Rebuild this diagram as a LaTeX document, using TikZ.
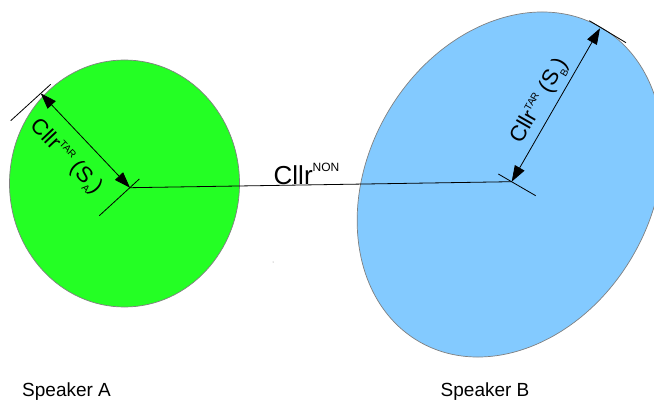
\documentclass[tikz,border=0pt]{standalone}
\usepackage{fontspec}
\setmainfont{Liberation Sans}
\usetikzlibrary{arrows.meta}
\definecolor{spkgreen}{RGB}{36,255,36}
\definecolor{spkblue}{RGB}{131,202,255}
\definecolor{rimgray}{RGB}{128,128,128}
\newcommand{\bigtxt}[1]{{\fontsize{22}{22}\selectfont #1}}
\newcommand{\smalltxt}[1]{{\fontsize{10}{10}\selectfont #1}}
\newcommand{\tarlabel}[1]{\bigtxt{Cllr}\raisebox{9pt}{\smalltxt{TAR}}\bigtxt{ (S}\raisebox{-5pt}{\smalltxt{#1}}\bigtxt{)}}
\begin{document}
\begin{tikzpicture}[x=1pt,y=-1pt,
  blob/.style={draw=rimgray,line width=0.7pt},
  dimarrow/.style={line width=0.8pt,{Triangle[length=16pt,width=11pt]}-{Triangle[length=16pt,width=11pt]}},
  tick/.style={line width=0.8pt},
  link/.style={line width=0.8pt},
  caption/.style={inner sep=0pt,font=\fontsize{19}{19}\selectfont}]
\useasboundingbox (0,0) rectangle (654,401);
\clip (0,0) rectangle (654,401);
% ellipses
\fill[spkgreen] (124.5,183.5) ellipse [x radius=115pt,y radius=123.5pt];
\draw[blob] (124.5,183.5) ellipse [x radius=115pt,y radius=123.5pt];
\begin{scope}[shift={(510,184.5)},rotate=-30]
  \fill[spkblue] (0,0) ellipse [x radius=142pt,y radius=181.5pt];
  \draw[blob] (0,0) ellipse [x radius=142pt,y radius=181.5pt];
\end{scope}
% points
\coordinate (cA) at (130,187.7);
\coordinate (eA) at (40.7,93.3);
\coordinate (cB) at (511.7,181.7);
\coordinate (eB) at (600,28.3);
\coordinate (tA1) at (99.3,215.7);
\coordinate (tA2) at (139.3,179);
\coordinate (sA1) at (10.7,120.7);
\coordinate (sA2) at (50.7,84.3);
\coordinate (tB1) at (498.3,174);
\coordinate (tB2) at (535.7,195.7);
\coordinate (sB1) at (589.3,20.7);
\coordinate (sB2) at (626,42.7);
% connectors
\draw[link] (cA) -- (cB);
\draw[dimarrow] (eA) -- (cA);
\draw[dimarrow] (cB) -- (eB);
\draw[tick] (tA1) -- (tA2);
\draw[tick] (sA1) -- (sA2);
\draw[tick] (tB1) -- (tB2);
\draw[tick] (sB1) -- (sB2);
% labels
\node[inner sep=0pt,rotate=-46.6] (labA) at (66,157) {\tarlabel{A}};
\node[inner sep=0pt,rotate=60.2] (labB) at (540,101) {\tarlabel{B}};
\node[inner sep=0pt,anchor=base west] (labN) at (273.5,185)
  {{\fontsize{26}{26}\selectfont Cllr}\raisebox{13pt}{\fontsize{12}{12}\selectfont NON}};
\node[caption,anchor=base west] (spA) at (22,396.5) {Speaker A};
\node[caption,anchor=base west] (spB) at (440.5,396.5) {Speaker B};
\fill[rimgray] (273,262) circle (0.5pt);
\end{tikzpicture}
\end{document}
